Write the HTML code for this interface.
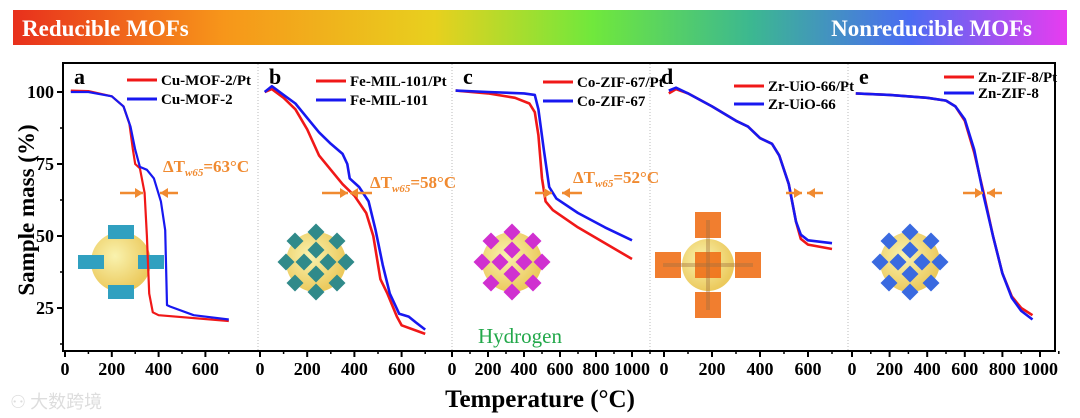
<!DOCTYPE html>
<html><head><meta charset="utf-8"><style>
body{margin:0;background:#fff;width:1080px;height:418px;overflow:hidden;font-family:"Liberation Serif",serif}
svg{display:block}
</style></head><body>
<svg id="chart" width="1080" height="418" viewBox="0 0 1080 418">
<defs>
<linearGradient id="grad" x1="0" x2="1" y1="0" y2="0">
<stop offset="0" stop-color="#e8301c"/><stop offset="0.2" stop-color="#f7961a"/><stop offset="0.4" stop-color="#e8d01e"/>
<stop offset="0.55" stop-color="#70e83c"/><stop offset="0.7" stop-color="#3cb890"/><stop offset="0.85" stop-color="#4a6cf2"/><stop offset="1" stop-color="#e83cf0"/>
</linearGradient>
<radialGradient id="ball" cx="0.4" cy="0.4" r="0.6"><stop offset="0" stop-color="#f8f0a0"/><stop offset="1" stop-color="#e8c040"/></radialGradient>
</defs>
<rect x="13" y="10" width="1054" height="35" fill="url(#grad)"/>
<text x="22" y="36" fill="#fff" font-weight="bold" font-size="23">Reducible MOFs</text>
<text x="1032" y="36" fill="#fff" font-weight="bold" font-size="23" text-anchor="end">Nonreducible MOFs</text>
<g id="plot"></g>
<text x="540" y="407" font-weight="bold" font-size="25" text-anchor="middle">Temperature (°C)</text>
<text transform="translate(34,210) rotate(-90)" font-weight="bold" font-size="23" text-anchor="middle">Sample mass (%)</text>
<text x="520" y="343" fill="#22a84a" font-size="21" text-anchor="middle">Hydrogen</text>
<text x="10" y="408" fill="#ddd" font-size="18" font-family="'Noto Sans CJK SC',sans-serif">⚇ 大数跨境</text>
</svg>
<script>
const yTicks=[25,50,75,100];
const panelNames=["a","b","c","d","e"];
const legendPt=["Cu-MOF-2/Pt","Fe-MIL-101/Pt","Co-ZIF-67/Pt","Zr-UiO-66/Pt","Zn-ZIF-8/Pt"];
const legendBare=["Cu-MOF-2","Fe-MIL-101","Co-ZIF-67","Zr-UiO-66","Zn-ZIF-8"];
const xTicksA=[0,200,400,600];
const xTicksC=[0,200,400,600,800,1000];
const deltaLabels=["63","58","52","",""];
const aPtT=[25,100,200,250,275,290,300,320,340,350,360,375,400,700];
const aPtM=[100.5,100.3,98.5,95,89,80,75,73.5,65,50,30,23.5,22.5,20.5];
const aT=[25,100,200,250,280,300,320,350,380,410,428,436,450,550,700];
const aM=[100,100,98.5,95,88,80,74,73,70,62,52,26,25.5,22.5,21];
const bPtT=[20,50,100,150,200,250,300,350,400,450,480,510,540,580,600,700];
const bPtM=[100,101,98,94,87,78,73,68,64,58,50,35,30,22,19,16];
const bT=[20,50,100,150,200,250,300,350,370,380,420,460,490,520,550,590,630,660,700];
const bM=[100,102,99,96,91,86,82,78.5,75,70,67,62,52,40,30,23,22,20,17.5];
const cPtT=[20,200,350,430,460,480,500,520,560,700,1000];
const cPtM=[100.5,99.5,98,96,93,85,70,62,59,53,42];
const cT=[20,200,400,460,480,510,540,580,700,850,1000];
const cM=[100.5,100,99.5,99,94,80,67,63,58,53,48.5];
const dPtT=[20,50,100,200,300,350,400,450,480,520,550,570,600,700];
const dPtM=[99.5,101,99.5,95,90,88,84,82,78,68,55,49,47,45.5];
const dT=[20,50,100,200,300,350,400,450,480,520,550,570,600,700];
const dM=[100.5,101.5,99.5,95,90,88,84,82,78,68,55,50.5,48.5,47.5];
const eT=[20,200,400,500,550,600,650,700,750,800,850,900,960];
const ePtM=[99.5,99,98,97,95,90,79,65,50,37,29,25,22.5];
const eM=[99.5,99,98,97,95,90.5,80,64,50,37,28.5,24,21];
const tempSeries=[[aPtT,aT],[bPtT,bT],[cPtT,cT],[dPtT,dT],[eT,eT]];
const massSeries=[[aPtM,aM],[bPtM,bM],[cPtM,cM],[dPtM,dM],[ePtM,eM]];

const NS="http://www.w3.org/2000/svg";
const g=document.getElementById("plot");
const PT=63,PB=351,PL=63,PR=1055;
const y=v=>92+(100-v)*2.88;
const panels=[{x0:65,s:0.234,l:63,r:258,ticks:xTicksA,max:700},{x0:260,s:0.236,l:258,r:452,ticks:xTicksA,max:700},
{x0:452,s:0.18,l:452,r:650,ticks:xTicksC,max:1000},{x0:664,s:0.24,l:650,r:848,ticks:xTicksA,max:700},{x0:852,s:0.188,l:848,r:1055,ticks:xTicksC,max:1000}];
function el(t,a,p){const e=document.createElementNS(NS,t);for(const k in a)e.setAttribute(k,a[k]);(p||g).appendChild(e);return e;}
let fr=el("rect",{x:PL,y:PT,width:PR-PL,height:PB-PT,fill:"none",stroke:"#000","stroke-width":2});


yTicks.forEach(v=>{
 let t=el("line",{x1:PL,x2:PL-6,y1:y(v),y2:y(v),stroke:"#000","stroke-width":2});
 
 
 let m=el("line",{x1:PL,x2:PL-3,y1:y(v-12.5),y2:y(v-12.5),stroke:"#000","stroke-width":1.5});
 
 
 let tx=el("text",{x:PL-9,y:y(v)+6,"text-anchor":"end","font-size":18,"font-weight":"bold"});
 tx.textContent=v;
 
 
});
const colors=["#f01818","#1818f0"];
panels.forEach((p,i)=>{
 const X=t=>p.x0+t*p.s;
 if(i>0){let d=el("line",{x1:p.l,x2:p.l,y1:PT+1,y2:PB-1,stroke:"#bbb","stroke-dasharray":"1,2"});
  
  }
 p.ticks.forEach(t=>{
  let tk=el("line",{x1:X(t),x2:X(t),y1:PB,y2:PB+6,stroke:"#000","stroke-width":2});
  
  
  let mk=el("line",{x1:X(t+100),x2:X(t+100),y1:PB,y2:PB+3,stroke:"#000","stroke-width":1.5});
  
  
  let tx=el("text",{x:X(t),y:PB+24,"text-anchor":"middle","font-size":18,"font-weight":"bold"});
  tx.textContent=t;
  
  
 });
 let L=el("text",{x:p.l+11,y:84,"font-size":22,"font-weight":"bold"});
 L.textContent=panelNames[i];
 
 
 const cx=p.l+(i===2?60:i===4?62:58), cy=i===3?265:262;
 const ins=el("g",{});
 
 
 el("circle",{cx:cx,cy:cy,r:i===3?26:30,fill:"url(#ball)",opacity:0.85},ins);
 const shc=["#30a0c0","#308a8a","#d030d0","#f07018","#3a6ae0"][i];
 if(i===3){
  [[0,-40],[0,40],[-40,0],[40,0],[0,0]].forEach(q=>{
   el("rect",{x:cx+q[0]-13,y:cy+q[1]-13,width:26,height:26,fill:shc,opacity:0.9},ins);
  });
  el("rect",{x:cx-2,y:cy-45,width:4,height:90,fill:"#a07040",opacity:0.4},ins);
  el("rect",{x:cx-45,y:cy-2,width:90,height:4,fill:"#a07040",opacity:0.4},ins);
 } else {
  const pts=i===0?[[0,-30],[0,30],[-30,0],[30,0]]:[[0,-30],[0,30],[-30,0],[30,0],[-21,-21],[21,21],[-21,21],[21,-21],[-12,0],[12,0],[0,-12],[0,12]];
  pts.forEach(q=>el("rect",{x:cx+q[0]-(i===0?13:6),y:cy+q[1]-(i===0?7:6),width:i===0?26:12,height:i===0?14:12,fill:shc,transform:i===0?"":"rotate(45 "+(cx+q[0])+" "+(cy+q[1])+")"},ins));
 }
 [0,1].forEach(k=>{
  const T=tempSeries[i][k],M=massSeries[i][k];
  const d=T.map((t,j)=>(j?"L":"M")+X(t).toFixed(1)+","+y(M[j]).toFixed(1)).join("");
  let pa=el("path",{d:d,fill:"none",stroke:colors[k],"stroke-width":i===0?2.2:2.6,"stroke-linejoin":"round"});
  
  
 });
 const lx=[127,316,543,734,944][i], ly=[80,81,82,86,77][i], gap=[19,19,19,18,16][i];
 [0,1].forEach(k=>{
  let ln=el("line",{x1:lx,x2:lx+30,y1:ly+k*gap,y2:ly+k*gap,stroke:colors[k],"stroke-width":3});
  
  
  let tx=el("text",{x:lx+34,y:ly+k*gap+5,"font-size":15,"font-weight":"bold"});
  tx.textContent=k?legendBare[i]:legendPt[i];
  
  
 });
 const ax=[[120,143,178,160],[322,348,372,350],[535,552,582,562],[786,802,823,807],[963,983,1002,987]][i];
 const ay=193;
 [[ax[0],ax[1]],[ax[2],ax[3]]].forEach(s=>{
  let ar=el("line",{x1:s[0],x2:s[1],y1:ay,y2:ay,stroke:"#f08a30","stroke-width":2.5});
  
  
  const dir=Math.sign(s[1]-s[0]);
  let hd=el("path",{d:`M${s[1]},${ay}L${s[1]-dir*8},${ay-5}L${s[1]-dir*8},${ay+5}Z`,fill:"#f08a30"});
  
  
 });
 if(deltaLabels[i]){
  const tx0=[163,370,573][i], ty=[172,188,183][i];
  let tx=el("text",{x:tx0,y:ty,"font-size":17,"font-weight":"bold",fill:"#f08a30"});
  tx.innerHTML='ΔT<tspan font-size="11" font-style="italic" dy="4">w65</tspan><tspan dy="-4">='+deltaLabels[i]+'°C</tspan>';
  
  
 }
});
</script>
</body></html>
